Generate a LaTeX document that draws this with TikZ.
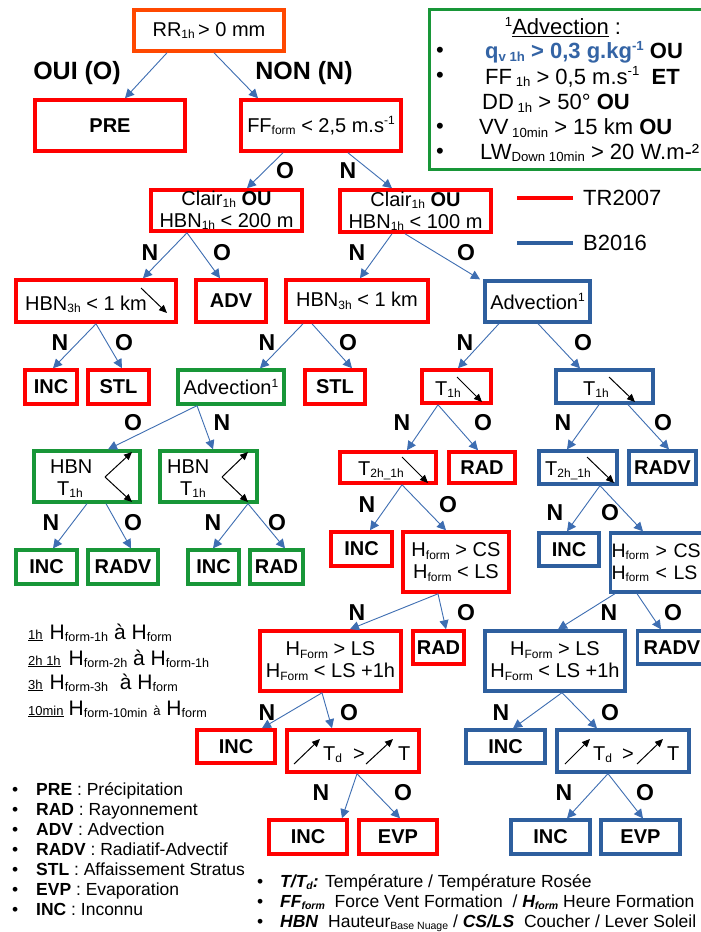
\documentclass[tikz,border=0pt]{standalone}
\usepackage{fontspec}
\setmainfont{Liberation Sans}
\usetikzlibrary{arrows.meta}
\definecolor{myred}{RGB}{255,0,0}
\definecolor{myorange}{RGB}{255,72,0}
\definecolor{myblue}{RGB}{46,95,158}
\definecolor{mygreen}{RGB}{24,150,56}
\definecolor{arrblue}{RGB}{62,110,178}
\definecolor{qblue}{RGB}{52,100,165}
\newcommand\lo[1]{\raisebox{-0.12em}{\scalebox{0.6}{#1}}}
\newcommand\hi[1]{\raisebox{0.38em}{\scalebox{0.6}{#1}}}
\newcommand\sz[1]{\fontsize{#1}{#1}\selectfont}
\tikzset{
 bx/.style={line width=3.6pt, inner sep=0pt, align=center, font=\fontsize{20}{22}\selectfont},
 rbox/.style={bx, draw=myred},
 obox/.style={bx, draw=myorange},
 bbox/.style={bx, draw=myblue, line width=3.3pt},
 gbox/.style={bx, draw=mygreen, line width=3.3pt},
 wh/.style 2 args={minimum width=#1pt, minimum height=#2pt},
 conn/.style={draw=arrblue, line width=0.9pt, -{Triangle[length=9pt,width=9pt]}},
 karr/.style={draw=black, line width=1pt, -{Triangle[length=8pt,width=7pt]}},
 lab/.style={font=\bfseries\fontsize{23}{23}\selectfont, inner sep=0pt},
 txt/.style={font=\fontsize{20}{22}\selectfont, inner sep=0pt},
 lg/.style={font=\fontsize{22}{22}\selectfont, inner sep=0pt, anchor=west},
 sm/.style={font=\fontsize{17.5}{18}\selectfont, inner sep=0pt, anchor=base west},
 nt/.style={font=\fontsize{21}{22}\selectfont, inner sep=0pt, anchor=base west},
}
\begin{document}
\begin{tikzpicture}[x=1pt,y=-1pt]
\useasboundingbox (0,0) rectangle (701,932);
\clip (0,0) rectangle (701,932);
\fill[white] (0,0) rectangle (701,932);

% ---------- legend box ----------
\node[gbox, anchor=north west, wh={300}{160}] (legbox) at (428,8) {};
\node[font=\sz{22}, inner sep=0pt] (legt) at (563,27) {\hi{1}\underline{Advection} :};
\node[lg] (lb1) at (436,52) {•};
\node[lg] (l1) at (485,52) {\textbf{\color{qblue}q\lo{v 1h} > 0,3 g.kg\hi{-1}} \textbf{OU}};
\node[lg] (lb2) at (436,77) {•};
\node[lg] (l2) at (485,77) {FF\lo{ 1h} > 0,5 m.s\hi{-1}\ \ \textbf{ET}};
\node[lg] (l3) at (482,103) {DD\lo{ 1h} > 50° \textbf{OU}};
\node[lg] (lb4) at (436,128) {•};
\node[lg] (l4) at (479,128) {VV\lo{ 10min} > 15 km \textbf{OU}};
\node[lg] (lb5) at (436,153) {•};
\node[lg] (l5) at (480,153) {LW\lo{Down 10min} > 20 W.m-²};

\coordinate (tra) at (517,198); \coordinate (trb) at (573,198);
\draw[myred, line width=4pt] (tra) -- (trb);
\node[font=\sz{22}, inner sep=0pt, anchor=west] (trt) at (583,198) {TR2007};
\coordinate (bra) at (517,243); \coordinate (brb) at (573,243);
\draw[myblue, line width=4pt] (bra) -- (brb);
\node[font=\sz{22}, inner sep=0pt, anchor=west] (brt) at (583,243) {B2016};

% ---------- boxes ----------
\node[obox, wh={150}{41}] (rr) at (209,30.5) {RR\lo{1h}\,> 0 mm};
\node[rbox, wh={150}{51}] (pre) at (110,125.5) {\textbf{PRE}};
\node[rbox, wh={160}{51}] (ff) at (321,125.5) {FF\lo{form} < 2,5 m.s\hi{-1}};
\node[rbox, wh={151}{41}] (c200) at (226.5,210.5) {Clair\lo{1h} \textbf{OU}\\HBN\lo{1h} < 200 m};
\node[rbox, wh={151}{42}] (c100) at (415.5,211) {Clair\lo{1h} \textbf{OU}\\HBN\lo{1h} < 100 m};
\node[rbox, wh={160}{42}] (h3l) at (96,301) {};
\node[rbox, wh={70}{42}] (adv) at (231,301) {\textbf{ADV}};
\node[rbox, wh={142}{42}] (h3m) at (357,301) {HBN\lo{3h} < 1 km};
\node[bbox, wh={105}{41}] (advb) at (537.5,301.5) {Advection\hi{1}};
\node[rbox, wh={52}{34}] (inc1) at (51,387) {\textbf{INC}};
\node[rbox, wh={61}{34}] (stl1) at (118.5,387) {\textbf{STL}};
\node[gbox, wh={106}{34}] (advg) at (231,387) {Advection\hi{1}};
\node[rbox, wh={60}{34}] (stl2) at (335,387) {\textbf{STL}};
\node[rbox, wh={69}{33}] (t1r) at (456.5,386.5) {};
\node[bbox, wh={97}{33}] (t1b) at (604.5,386.5) {};
\node[gbox, wh={106}{51}] (hbg1) at (87,476.5) {};
\node[gbox, wh={97}{51}] (hbg2) at (208.5,476.5) {};
\node[rbox, wh={96}{31}] (t2r) at (388,467.5) {};
\node[rbox, wh={66}{31}] (rad1) at (482,467.5) {\textbf{RAD}};
\node[bbox, wh={78}{33}] (t2b) at (578,467.5) {};
\node[bbox, wh={67}{33}] (radvb1) at (662.5,467.5) {\textbf{RADV}};
\node[gbox, wh={61}{34}] (incg1) at (46.5,567) {\textbf{INC}};
\node[gbox, wh={70}{34}] (radvg) at (123,567) {\textbf{RADV}};
\node[gbox, wh={51}{34}] (incg2) at (213.5,567) {\textbf{INC}};
\node[gbox, wh={53}{34}] (radg) at (276.5,567) {\textbf{RAD}};
\node[rbox, wh={61}{34}] (inc2r) at (361.5,549) {\textbf{INC}};
\node[rbox, wh={106}{60}] (hfr) at (456,562) {H\lo{form} > CS\\H\lo{form} < LS};
\node[bbox, wh={60}{33}] (inc2b) at (569,549.5) {\textbf{INC}};
\node[bbox, anchor=west, text width=92pt, align=left, inner xsep=1pt, minimum height=59pt, font=\fontsize{19.5}{22}\selectfont] (hfb) at (609,562.5) {H\lo{form} > CS\\H\lo{form} < LS};
\node[rbox, wh={51}{33}] (rad2r) at (438.5,647.5) {\textbf{RAD}};
\node[rbox, wh={141}{60}] (hflr) at (330.5,661) {H\lo{Form} > LS\\H\lo{Form} < LS +1h};
\node[bbox, wh={140}{60}] (hflb) at (555,661) {H\lo{Form} > LS\\H\lo{Form} < LS +1h};
\node[bbox, anchor=west, text width=70pt, align=left, inner xsep=6pt, minimum height=33pt] (radvb2) at (636,647.5) {\textbf{RADV}};
\node[rbox, wh={78}{33}] (inc3r) at (236,746.5) {\textbf{INC}};
\node[rbox, wh={132}{42}] (tdr) at (353,751) {};
\node[bbox, wh={79}{33}] (inc3b) at (505.5,746.5) {\textbf{INC}};
\node[bbox, wh={132}{42}] (tdb) at (623,751) {};
\node[rbox, wh={78}{34}] (inc4r) at (308,837) {\textbf{INC}};
\node[rbox, wh={78}{34}] (evpr) at (398,837) {\textbf{EVP}};
\node[bbox, wh={79}{34}] (inc4b) at (550.5,837) {\textbf{INC}};
\node[bbox, wh={79}{34}] (evpb) at (640.5,837) {\textbf{EVP}};

% ---------- box contents with trend arrows ----------
\node[txt, anchor=base west] (h3lt) at (25,310) {HBN\lo{3h} < 1 km};
\draw[karr] (141,288) -- (167,313);
\node[txt, anchor=base west] (t1rt) at (435,395) {T\lo{1h}};
\draw[karr] (457,377) -- (482,402);
\node[txt, anchor=base west] (t1bt) at (583,395) {T\lo{1h}};
\draw[karr] (609,377) -- (635,402);
\node[txt, anchor=base west] (t2rt) at (358,475) {T\lo{2h\_1h}};
\draw[karr] (402,457) -- (428,483);
\node[txt, anchor=base west] (t2bt) at (545,475) {T\lo{2h\_1h}};
\draw[karr] (587,457) -- (614,483);
\node[txt, anchor=base west] (hbg1a) at (50,473) {HBN};
\node[txt, anchor=base west] (hbg1b) at (57,495) {T\lo{1h}};
\draw[karr] (105,477) -- (132,452);
\draw[karr] (105,477) -- (132,502);
\node[txt, anchor=base west] (hbg2a) at (167,473) {HBN};
\node[txt, anchor=base west] (hbg2b) at (180,495) {T\lo{1h}};
\draw[karr] (222,477) -- (248,452);
\draw[karr] (222,477) -- (248,502);
\draw[karr] (294,764) -- (320,739);
\node[txt, anchor=base west] (tdr1) at (323,760) {T\lo{d}};
\node[txt, anchor=base west] (tdr2) at (353,760) {>};
\draw[karr] (366,764) -- (393,739);
\node[txt, anchor=base west] (tdr3) at (398,760) {T};
\draw[karr] (565,764) -- (590,739);
\node[txt, anchor=base west] (tdb1) at (593,760) {T\lo{d}};
\node[txt, anchor=base west] (tdb2) at (622,760) {>};
\draw[karr] (637,764) -- (663,739);
\node[txt, anchor=base west] (tdb3) at (667,760) {T};

% ---------- connectors ----------
\draw[conn] ([xshift=-42pt]rr.south) -- ([xshift=15pt]pre.north);
\draw[conn] ([xshift=5pt]rr.south) -- ([xshift=-63pt]ff.north);
\draw[conn] ([xshift=-38pt]ff.south) -- ([xshift=20.5pt]c200.north);
\draw[conn] ([xshift=27pt]ff.south) -- ([xshift=-23.5pt]c100.north);
\draw[conn] ([xshift=-39.5pt]c200.south) -- ([xshift=47pt]h3l.north);
\draw[conn] ([xshift=-39.5pt]c200.south) -- ([xshift=-11pt]adv.north);
\draw[conn] ([xshift=-23.5pt]c100.south) -- ([xshift=3pt]h3m.north);
\draw[conn] ([xshift=-10.5pt]c100.south) -- ([xshift=-57.5pt]advb.north);
\draw[conn] (h3l.south) -- ([xshift=2pt]inc1.north);
\draw[conn] (h3l.south) -- ([xshift=3.5pt]stl1.north);
\draw[conn] ([xshift=-54pt]h3m.south) -- ([xshift=29pt]advg.north);
\draw[conn] ([xshift=-45pt]h3m.south) -- ([xshift=17pt]stl2.north);
\draw[conn] ([xshift=-38.5pt]advb.south) -- ([xshift=1.5pt]t1r.north);
\draw[conn] ([xshift=0.5pt]advb.south) -- ([xshift=-24.5pt]t1b.north);
\draw[conn] ([xshift=-34pt]advg.south) -- ([xshift=21pt]hbg1.north);
\draw[conn] ([xshift=-34pt]advg.south) -- ([xshift=4.5pt]hbg2.north);
\draw[conn] ([xshift=-18.5pt]t1r.south) -- ([xshift=19pt]t2r.north);
\draw[conn] ([xshift=-18.5pt]t1r.south) -- ([xshift=-4pt]rad1.north);
\draw[conn] ([xshift=-5.5pt]t1b.south) -- ([xshift=-11pt]t2b.north);
\draw[conn] ([xshift=23.5pt]t1b.south) -- ([xshift=6.5pt]radvb1.north);
\draw[conn] (hbg1.south) -- ([xshift=6.5pt]incg1.north);
\draw[conn] ([xshift=19pt]hbg1.south) -- ([xshift=8pt]radvg.north);
\draw[conn] ([xshift=39.5pt]hbg2.south) -- ([xshift=-0.5pt]incg2.north);
\draw[conn] ([xshift=39.5pt]hbg2.south) -- ([xshift=8.5pt]radg.north);
\draw[conn] ([xshift=14pt]t2r.south) -- ([xshift=8.5pt]inc2r.north);
\draw[conn] ([xshift=14pt]t2r.south) -- ([xshift=-10pt]hfr.north);
\draw[conn] ([xshift=22pt]t2b.south) -- ([xshift=-2pt]inc2b.north);
\draw[conn] ([xshift=22pt]t2b.south) -- ([xshift=34pt]hfb.north west);
\draw[conn] ([xshift=-18pt]hfr.south) -- ([xshift=19.5pt]hflr.north);
\draw[conn] ([xshift=-18pt]hfr.south) -- ([xshift=7.5pt]rad2r.north);
\draw[conn] ([xshift=6pt]hfb.south west) -- ([xshift=3pt]hflb.north);
\draw[conn] ([xshift=28pt]hfb.south west) -- ([xshift=25pt]radvb2.north west);
\draw[conn] ([xshift=-8.5pt]hflr.south) -- ([xshift=26pt]inc3r.north);
\draw[conn] ([xshift=-8.5pt]hflr.south) -- ([xshift=-21pt]tdr.north);
\draw[conn] ([xshift=7pt]hflb.south) -- ([xshift=7.5pt]inc3b.north);
\draw[conn] ([xshift=7pt]hflb.south) -- ([xshift=-26pt]tdb.north);
\draw[conn] ([xshift=4pt]tdr.south) -- ([xshift=34pt]inc4r.north);
\draw[conn] ([xshift=4pt]tdr.south) -- ([xshift=2pt]evpr.north);
\draw[conn] ([xshift=-15pt]tdb.south) -- ([xshift=16.5pt]inc4b.north);
\draw[conn] ([xshift=-15pt]tdb.south) -- ([xshift=2.5pt]evpb.north);

% ---------- branch labels ----------
\node[lab, font=\bfseries\sz{25}] (oui) at (77,73) {OUI (O)};
\node[lab, font=\bfseries\sz{25}] (non) at (304,73) {NON (N)};
\node[lab] (a1) at (285,171) {O};
\node[lab] (a2) at (348,171) {N};
\node[lab] (a3) at (150,253) {N};
\node[lab] (a4) at (222,253) {O};
\node[lab] (a5) at (357,253) {N};
\node[lab] (a6) at (466,253) {O};
\node[lab] (a7) at (60,343) {N};
\node[lab] (a8) at (124,343) {O};
\node[lab] (a9) at (267,343) {N};
\node[lab] (a10) at (348,343) {O};
\node[lab] (a11) at (465,343) {N};
\node[lab] (a12) at (583,343) {O};
\node[lab] (a13) at (133,423) {O};
\node[lab] (a14) at (222,423) {N};
\node[lab] (a15) at (402,423) {N};
\node[lab] (a16) at (483,423) {O};
\node[lab] (a17) at (563,423) {N};
\node[lab] (a18) at (663,423) {O};
\node[lab] (a19) at (51,523) {N};
\node[lab] (a20) at (133,523) {O};
\node[lab] (a21) at (213,523) {N};
\node[lab] (a22) at (277,523) {O};
\node[lab] (a23) at (367,505) {N};
\node[lab] (a24) at (448,505) {O};
\node[lab] (a25) at (555,513) {N};
\node[lab] (a26) at (610,513) {O};
\node[lab] (a27) at (357,613) {N};
\node[lab] (a28) at (466,613) {O};
\node[lab] (a29) at (609,613) {N};
\node[lab] (a30) at (673,613) {O};
\node[lab] (a31) at (267,713) {N};
\node[lab] (a32) at (349,713) {O};
\node[lab] (a33) at (501,713) {N};
\node[lab] (a34) at (610,713) {O};
\node[lab] (a35) at (321,793) {N};
\node[lab] (a36) at (403,793) {O};
\node[lab] (a37) at (564,793) {N};
\node[lab] (a38) at (645,793) {O};

% ---------- time-window notes ----------
\node[nt] (n1) at (28,639) {{\sz{13}\underline{1h}}\hspace{7pt}H\lo{form-1h} à H\lo{form}};
\node[nt] (n2) at (28,665) {{\sz{13}\underline{2h 1h}}\hspace{8pt}H\lo{form-2h} à H\lo{form-1h}};
\node[nt] (n3) at (28,689) {{\sz{13}\underline{3h}}\hspace{7pt}H\lo{form-3h}\ \ à H\lo{form}};
\node[nt] (n4) at (28,715) {{\sz{13}\underline{10min}}\hspace{5pt}H\lo{form-10min}\ {\sz{13}à} H\lo{form}};

% ---------- abbreviation legend ----------
\node[sm] (d1) at (12,795) {•}; \node[sm] (e1) at (36,795) {\textbf{PRE} : Précipitation};
\node[sm] (d2) at (12,815) {•}; \node[sm] (e2) at (36,815) {\textbf{RAD} : Rayonnement};
\node[sm] (d3) at (12,835) {•}; \node[sm] (e3) at (36,835) {\textbf{ADV} : Advection};
\node[sm] (d4) at (12,855) {•}; \node[sm] (e4) at (36,855) {\textbf{RADV} : Radiatif-Advectif};
\node[sm] (d5) at (12,875) {•}; \node[sm] (e5) at (36,875) {\textbf{STL} : Affaissement Stratus};
\node[sm] (d6) at (12,895) {•}; \node[sm] (e6) at (36,895) {\textbf{EVP} : Evaporation};
\node[sm] (d7) at (12,915) {•}; \node[sm] (e7) at (36,915) {\textbf{INC} : Inconnu};

\node[sm] (f1) at (257,887) {•}; \node[sm] (g1) at (280,887) {\textbf{\textit{T/T\lo{d}:}} Température / Température Rosée};
\node[sm] (f2) at (257,907) {•}; \node[sm] (g2) at (280,907) {\textbf{\textit{FF\lo{form}}}\ \ Force Vent Formation\ \ / \textbf{\textit{H\lo{form}}} Heure Formation};
\node[sm] (f3) at (257,927) {•}; \node[sm] (g3) at (280,927) {\textbf{\textit{HBN}}\ \ Hauteur\lo{Base Nuage} / \textbf{\textit{CS/LS}}\ \ Coucher / Lever Soleil};
\end{tikzpicture}
\end{document}
